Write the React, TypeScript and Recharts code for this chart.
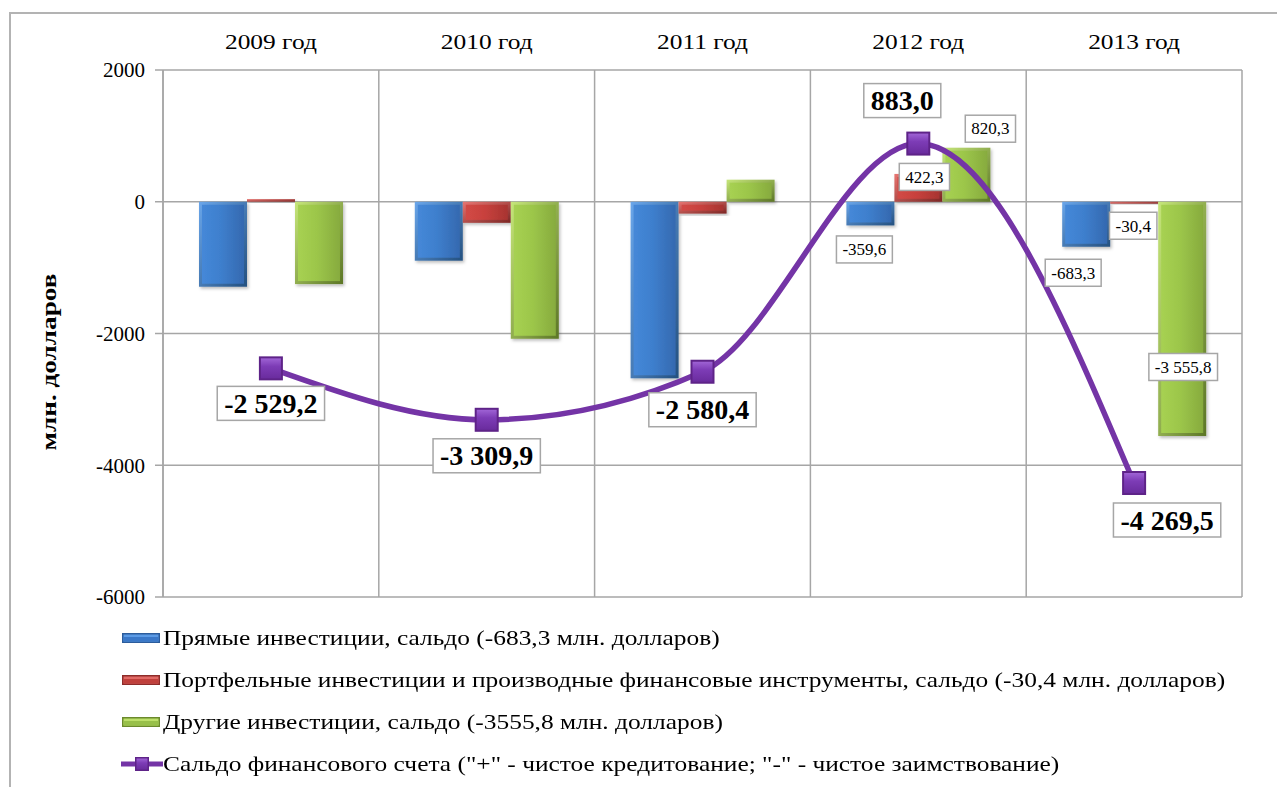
import React from 'react';
import { ComposedChart, Bar, Line, XAxis, YAxis, CartesianGrid, Legend, LabelList } from 'recharts';

const CATEGORIES = ['2009 год', '2010 год', '2011 год', '2012 год', '2013 год'];
const DIRECT = [-1290, -895, -2680, -359.6, -683.3];
const PORTFOLIO = [40, -320, -180, 422.3, -30.4];
const OTHER = [-1250, -2080, 335, 820.3, -3555.8];
const BALANCE = [-2529.2, -3309.9, -2580.4, 883.0, -4269.5];
const Y_TICKS = [-6000, -4000, -2000, 0, 2000];

const NAME_DIRECT = 'Прямые инвестиции, сальдо (-683,3 млн. долларов)';
const NAME_PORTFOLIO = 'Портфельные инвестиции и производные финансовые инструменты, сальдо (-30,4 млн. долларов)';
const NAME_OTHER = 'Другие инвестиции, сальдо (-3555,8 млн. долларов)';
const NAME_BALANCE = 'Сальдо финансового счета ("+" - чистое кредитование; "-" - чистое заимствование)';

// bar values are only labelled for the last two years
const BAR_LABELED = [3, 4];

const FONT = '"Liberation Serif", "Times New Roman", serif';
const GRID = '#a6a6a6';
// the source picture is a bit stretched sideways, text included
const STRETCH = 1.21;

// label nudges (dx, dy from the mark), like the hand-placed labels of the original
const LINE_LABEL_SHIFT = [[0, 35], [0, 36], [0, 38], [-16, -43], [33, 37]];
const DIRECT_LABEL_SHIFT = { 3: [-6, 24], 4: [-13, 26] };
const PORTFOLIO_LABEL_SHIFT = { 3: [6, 3], 4: [-1, 22] };
const OTHER_LABEL_SHIFT = { 3: [24, -19], 4: [1, -69] };

const data = CATEGORIES.map((cat, i) => ({
  cat,
  direct: DIRECT[i],
  portfolio: PORTFOLIO[i],
  other: OTHER[i],
  balance: BALANCE[i],
}));

let ctx: CanvasRenderingContext2D | null = null;
function measure(text: string, font: string) {
  if (!ctx) ctx = document.createElement('canvas').getContext('2d');
  if (!ctx) return text.length * 10;
  ctx.font = font;
  return ctx.measureText(text).width;
}

function fmt(v: number) {
  const neg = v < 0;
  const [intPart, dec] = Math.abs(v).toFixed(1).split('.');
  const grouped = intPart.replace(/\B(?=(\d{3})+(?!\d))/g, ' ');
  return (neg ? '-' : '') + grouped + ',' + dec;
}

function BoxLabel({ cx, cy, text, size, bold }: any) {
  const font = `${bold ? 'bold ' : ''}${size}px ${FONT}`;
  const w = measure(text, font) + (bold ? 14 : 12);
  const h = bold ? 34 : 27;
  return (
    <g>
      <rect x={cx - w / 2} y={cy - h / 2} width={w} height={h} fill="#fff" stroke={GRID} strokeWidth={1.5} />
      <text
        x={cx}
        y={cy + size * 0.34}
        textAnchor="middle"
        fontFamily={FONT}
        fontSize={size}
        fontWeight={bold ? 'bold' : 'normal'}
        fill="#000"
      >
        {text}
      </text>
    </g>
  );
}

const makeBarLabel = (shifts: any) => (props: any) => {
  const { index, value } = props;
  if (!BAR_LABELED.includes(index)) return null;
  const x = props.x ?? props.viewBox?.x;
  const y = props.y ?? props.viewBox?.y;
  const width = props.width ?? props.viewBox?.width;
  const height = props.height ?? props.viewBox?.height;
  const top = Math.min(y, y + height);
  const bottom = Math.max(y, y + height);
  const [dx, dy] = shifts[index];
  const cy = (value < 0 ? bottom : top) + dy;
  return <BoxLabel key={index} cx={x + width / 2 + dx} cy={cy} text={fmt(value)} size={17} />;
};

const lineLabel = (props: any) => {
  const { index, value } = props;
  const x = props.x ?? props.viewBox?.x;
  const y = props.y ?? props.viewBox?.y;
  const [dx, dy] = LINE_LABEL_SHIFT[index];
  return <BoxLabel key={index} cx={x + dx} cy={y + dy} text={fmt(value)} size={28} bold />;
};

function CategoryTick(props: any) {
  const { x, y, payload } = props;
  const size = 21;
  const w = measure(payload.value, `${size}px ${FONT}`) * STRETCH;
  return (
    <text
      x={x}
      y={y}
      textAnchor="middle"
      fontFamily={FONT}
      fontSize={size}
      fill="#000"
      textLength={w}
      lengthAdjust="spacingAndGlyphs"
    >
      {payload.value}
    </text>
  );
}

function BevelBar(props: any) {
  const { x, y, width, height, kind } = props;
  if (width == null || height == null) return null;
  const top = Math.min(y, y + height);
  const h = Math.abs(height);
  if (h < 0.5) return null;
  const i = Math.min(3, h / 2);
  return (
    <g filter="url(#barShadow)">
      <rect x={x} y={top} width={width} height={h} fill={`url(#${kind}Edge)`} />
      <rect x={x + i} y={top + i} width={width - 2 * i} height={h - 2 * i} fill={`url(#${kind}Body)`} />
    </g>
  );
}

function SquareDot(props: any) {
  const { cx, cy, index } = props;
  if (cx == null || cy == null) return null;
  const s = 24;
  return (
    <g key={index}>
      <rect x={cx - s / 2} y={cy - s / 2} width={s} height={s} fill="#5e2388" />
      <rect x={cx - s / 2 + 2} y={cy - s / 2 + 2} width={s - 4} height={s - 4} fill="url(#dotBody)" />
    </g>
  );
}

function YLabel() {
  return (
    <text
      x={56}
      y={362}
      transform="rotate(-90 56 362)"
      textAnchor="middle"
      fontFamily={FONT}
      fontSize={22}
      fontWeight="bold"
      fill="#000"
      textLength={177}
      lengthAdjust="spacingAndGlyphs"
    >
      млн. долларов
    </text>
  );
}

const LEGEND_ITEMS = [
  { name: NAME_DIRECT, kind: 'blue' },
  { name: NAME_PORTFOLIO, kind: 'red' },
  { name: NAME_OTHER, kind: 'green' },
  { name: NAME_BALANCE, kind: 'line' },
];

const ICON_COLORS: any = {
  blue: ['#2c5c9c', '#5c9be6', '#3b78c8'],
  red: ['#8e2c2a', '#e26a66', '#c0403c'],
  green: ['#6b8a2c', '#bde06a', '#98c04a'],
};

function LegendIcon({ kind }: { kind: string }) {
  if (kind === 'line') {
    return (
      <svg width={42} height={20} style={{ display: 'block', flex: 'none' }}>
        <line x1={0} y1={10} x2={42} y2={10} stroke="#7434a6" strokeWidth={5} />
        <rect x={14} y={3} width={14} height={14} fill="#5e2388" />
        <rect x={15.5} y={4.5} width={11} height={11} fill="url(#dotBody)" />
      </svg>
    );
  }
  const [dark, light, mid] = ICON_COLORS[kind];
  return (
    <svg width={42} height={20} style={{ display: 'block', flex: 'none' }}>
      <rect x={1} y={5} width={38} height={10} fill={dark} />
      <rect x={2.5} y={6.5} width={35} height={7} fill={light} />
      <rect x={2.5} y={9} width={35} height={4.5} fill={mid} />
    </svg>
  );
}

function LegendContent() {
  return (
    <div style={{ paddingTop: 20, paddingLeft: 121 }}>
      {LEGEND_ITEMS.map((item) => (
        <div key={item.name} style={{ display: 'flex', alignItems: 'center', height: 42 }}>
          <LegendIcon kind={item.kind} />
          <span
            style={{
              fontFamily: FONT,
              fontSize: 21,
              color: '#000',
              whiteSpace: 'nowrap',
              display: 'inline-block',
              transform: `scaleX(${STRETCH})`,
              transformOrigin: 'left center',
            }}
          >
            {item.name}
          </span>
        </div>
      ))}
    </div>
  );
}

function Gradients() {
  const body = (id: string, c1: string, c2: string, c3: string) => (
    <linearGradient id={id} x1="0" y1="0" x2="1" y2="0">
      <stop offset="0%" stopColor={c1} />
      <stop offset="45%" stopColor={c2} />
      <stop offset="100%" stopColor={c3} />
    </linearGradient>
  );
  const edge = (id: string, light: string, dark: string) => (
    <linearGradient id={id} x1="0" y1="0" x2="1" y2="1">
      <stop offset="0%" stopColor={light} />
      <stop offset="100%" stopColor={dark} />
    </linearGradient>
  );
  return (
    <defs>
      {body('blueBody', '#4588d8', '#3e7fcd', '#3569b0')}
      {edge('blueEdge', '#6aa6ea', '#24507f')}
      {body('redBody', '#d24a46', '#c8413d', '#a83431')}
      {edge('redEdge', '#e87672', '#7c2624')}
      {body('greenBody', '#a7d152', '#9cc64a', '#87ab3e')}
      {edge('greenEdge', '#c6e67a', '#5c7626')}
      <linearGradient id="dotBody" x1="0" y1="0" x2="0" y2="1">
        <stop offset="0%" stopColor="#9e62d4" />
        <stop offset="40%" stopColor="#7d3cb6" />
        <stop offset="100%" stopColor="#6a2c9e" />
      </linearGradient>
      <filter id="barShadow" x="-10%" y="-10%" width="130%" height="130%">
        <feDropShadow dx="1.5" dy="2" stdDeviation="1.5" floodColor="#000" floodOpacity="0.25" />
      </filter>
    </defs>
  );
}

export default function App() {
  return (
    <div style={{ position: 'absolute', left: 0, top: 0, width: 1277, height: 787, background: '#fff', overflow: 'hidden' }}>
      <div
        style={{
          position: 'absolute',
          left: 9,
          top: 12,
          width: 1300,
          height: 800,
          borderLeft: '2px solid #b3b3b3',
          borderTop: '2px solid #b3b3b3',
        }}
      />
      <div style={{ position: 'absolute', left: 0, top: 0 }}>
        <ComposedChart
          width={1277}
          height={787}
          data={data}
          margin={{ top: 20, right: 35, bottom: 20, left: 10 }}
          barGap={0}
          barSize={48}
        >
          <Gradients />
          <CartesianGrid
            stroke={GRID}
            strokeWidth={1.5}
            verticalCoordinatesGenerator={({ offset }: any) =>
              Array.from({ length: CATEGORIES.length + 1 }, (_, i) => offset.left + (i * offset.width) / CATEGORIES.length)
            }
          />
          <XAxis
            dataKey="cat"
            orientation="top"
            height={50}
            axisLine={false}
            tickLine={false}
            tickSize={6}
            tickMargin={15}
            tick={<CategoryTick />}
            interval={0}
          />
          <YAxis
            width={153}
            domain={[-6000, 2000]}
            ticks={Y_TICKS}
            interval={0}
            axisLine={{ stroke: GRID, strokeWidth: 1.5 }}
            tickLine={{ stroke: GRID, strokeWidth: 1.5 }}
            tickSize={8}
            tickMargin={10}
            tick={{ fontFamily: FONT, fontSize: 21, fill: '#000' }}
            label={<YLabel />}
          />
          <Legend
            verticalAlign="bottom"
            wrapperStyle={{ left: 0, top: 597, width: 1277, height: 170 }}
            content={<LegendContent />}
          />
          <Bar dataKey="direct" name={NAME_DIRECT} fill="#3e7fcd" shape={<BevelBar kind="blue" />} isAnimationActive={false}>
            <LabelList dataKey="direct" content={makeBarLabel(DIRECT_LABEL_SHIFT)} />
          </Bar>
          <Bar dataKey="portfolio" name={NAME_PORTFOLIO} fill="#c8413d" shape={<BevelBar kind="red" />} isAnimationActive={false}>
            <LabelList dataKey="portfolio" content={makeBarLabel(PORTFOLIO_LABEL_SHIFT)} />
          </Bar>
          <Bar dataKey="other" name={NAME_OTHER} fill="#9cc64a" shape={<BevelBar kind="green" />} isAnimationActive={false}>
            <LabelList dataKey="other" content={makeBarLabel(OTHER_LABEL_SHIFT)} />
          </Bar>
          <Line
            dataKey="balance"
            name={NAME_BALANCE}
            type="monotone"
            stroke="#7434a6"
            strokeWidth={5.5}
            dot={<SquareDot />}
            activeDot={false}
            isAnimationActive={false}
          >
            <LabelList dataKey="balance" content={lineLabel} />
          </Line>
        </ComposedChart>
      </div>
    </div>
  );
}
